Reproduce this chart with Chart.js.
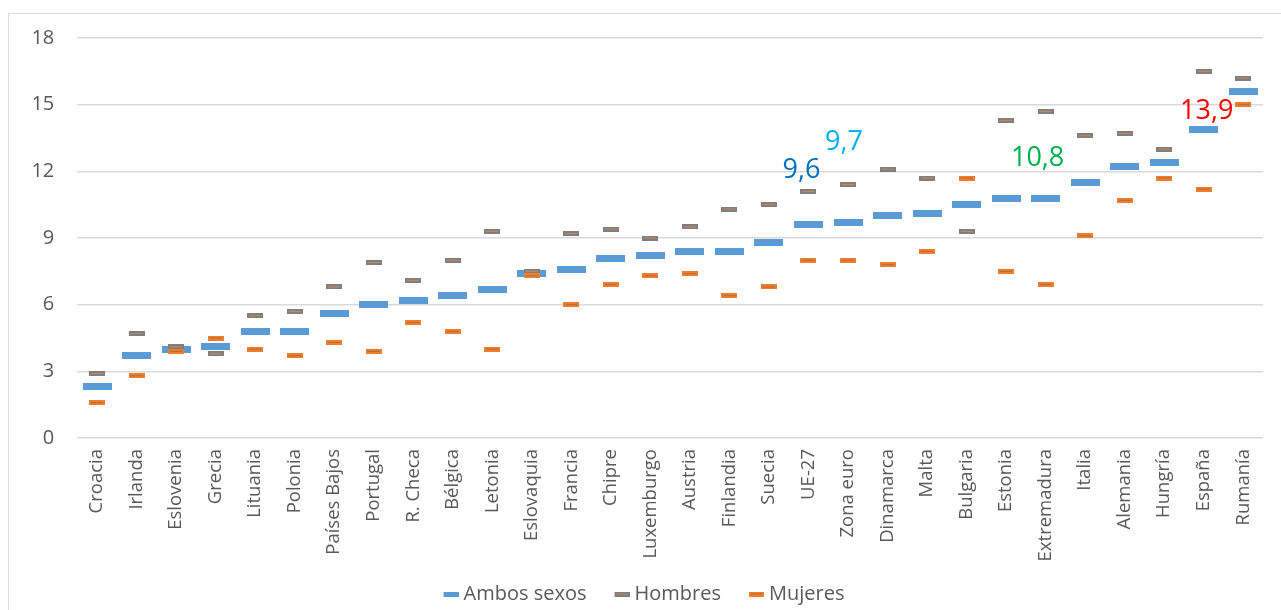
<!DOCTYPE html>
<html>
<head>
<meta charset="utf-8">
<script src="https://cdn.jsdelivr.net/npm/chart.js@4"></script>
<style>
html, body { margin: 0; padding: 0; background: #fff; overflow: hidden; }
#wrap { position: relative; width: 1281px; height: 610px; overflow: hidden; }
#frame { position: absolute; left: 8px; top: 13px; width: 1320px; height: 700px; border: 1px solid #d9d9d9; box-sizing: border-box; }
#chart { position: absolute; left: 0; top: 0; }
</style>
</head>
<body>
<div id="wrap">
  <div id="frame"></div>
  <canvas id="chart" width="1281" height="610"></canvas>
</div>
<script>
// Categories and series (tasa, %)
const categories = ['Croacia', 'Irlanda', 'Eslovenia', 'Grecia', 'Lituania', 'Polonia', 'Países Bajos', 'Portugal',
    'R. Checa', 'Bélgica', 'Letonia', 'Eslovaquia', 'Francia', 'Chipre', 'Luxemburgo', 'Austria', 'Finlandia',
    'Suecia', 'UE-27', 'Zona euro', 'Dinamarca', 'Malta', 'Bulgaria', 'Estonia', 'Extremadura', 'Italia',
    'Alemania', 'Hungría', 'España', 'Rumanía'];
const ambos = [2.3, 3.7, 4.0, 4.1, 4.8, 4.8, 5.6, 6.0, 6.2, 6.4, 6.7, 7.4, 7.6, 8.1, 8.2, 8.4, 8.4, 8.8, 9.6, 9.7,
    10.0, 10.1, 10.5, 10.8, 10.8, 11.5, 12.2, 12.4, 13.9, 15.6];
const hombres = [2.9, 4.7, 4.1, 3.8, 5.5, 5.7, 6.8, 7.9, 7.1, 8.0, 9.3, 7.5, 9.2, 9.4, 9.0, 9.5, 10.3, 10.5, 11.1, 11.4,
    12.1, 11.7, 9.3, 14.3, 14.7, 13.6, 13.7, 13.0, 16.5, 16.2];
const mujeres = [1.6, 2.8, 3.9, 4.5, 4.0, 3.7, 4.3, 3.9, 5.2, 4.8, 4.0, 7.3, 6.0, 6.9, 7.3, 7.4, 6.4, 6.8, 8.0, 8.0,
    7.8, 8.4, 11.7, 7.5, 6.9, 9.1, 10.7, 11.7, 11.2, 15.0];
const yTicks = [0, 3, 6, 9, 12, 15, 18];

// Highlighted values (label drawn above the "Ambos sexos" marker)
const highlightCats = ['UE-27', 'Zona euro', 'Extremadura', 'España'];
const highlightColors = ['#0070C0', '#00B0F0', '#00B050', '#FF0000'];
const highlightOffsets = [[-7, -54], [-4, -80], [-8, -40], [3, -18]];

const FONT = "'Open Sans', 'Noto Sans', sans-serif";
const TEXT = '#595959';

// dash markers like the Excel ones (x0 = where the dash starts inside the canvas)
function dash(cw, w, h, fill, mid, x0) {
    x0 = x0 || 0;
    const c = document.createElement('canvas');
    c.width = cw;
    c.height = h;
    const g = c.getContext('2d');
    g.fillStyle = fill;
    g.fillRect(x0, 0, w, h);
    if (mid) {
        g.fillStyle = mid;
        g.fillRect(x0 + 2, Math.floor(h / 2), w - 4, 1);
    }
    return c;
}

const markBlue = dash(29, 29, 7, '#5B9BD5');
const markGrey = dash(16, 16, 5, '#7F7F7F', '#C98A5E');
const markOrange = dash(16, 16, 5, '#ED7D31', '#C2662A');
// legend marks: wide transparent canvas so the dash sits close to its text
const legendMarks = [
    dash(43, 15, 5, '#5B9BD5', null, 28),
    dash(43, 15, 5, '#7F7F7F', '#C98A5E', 28),
    dash(43, 15, 5, '#ED7D31', '#C2662A', 28)
];

const highlightPlugin = {
    id: 'highlights',
    afterDatasetsDraw(chart) {
        const ctx = chart.ctx;
        const xs = chart.scales.x, ys = chart.scales.y;
        ctx.save();
        ctx.font = "27px " + FONT;
        ctx.textAlign = 'center';
        ctx.textBaseline = 'middle';
        highlightCats.forEach((cat, i) => {
            const idx = categories.indexOf(cat);
            const x = xs.getPixelForValue(idx) + highlightOffsets[i][0];
            const y = ys.getPixelForValue(ambos[idx]) + highlightOffsets[i][1];
            ctx.fillStyle = highlightColors[i];
            ctx.fillText(ambos[idx].toFixed(1).replace('.', ','), x, y);
        });
        ctx.restore();
    }
};

const ctx = document.getElementById('chart').getContext('2d');
new Chart(ctx, {
    type: 'line',
    data: {
        labels: categories,
        datasets: [{
            label: 'Ambos sexos',
            data: ambos,
            showLine: false,
            pointStyle: markBlue,
            order: 2
        }, {
            label: 'Hombres',
            data: hombres,
            showLine: false,
            pointStyle: markGrey,
            order: 1
        }, {
            label: 'Mujeres',
            data: mujeres,
            showLine: false,
            pointStyle: markOrange,
            order: 0
        }]
    },
    options: {
        responsive: false,
        animation: false,
        layout: {
            padding: { left: 2, top: 38, right: 18, bottom: -4 }
        },
        plugins: {
            tooltip: { enabled: false },
            legend: {
                position: 'bottom',
                labels: {
                    usePointStyle: true,
                    pointStyleWidth: 33,
                    padding: 5,
                    color: TEXT,
                    font: { family: FONT, size: 20 },
                    generateLabels: chart => chart.data.datasets.map((ds, i) => ({
                        text: ds.label,
                        pointStyle: legendMarks[i],
                        fillStyle: 'transparent',
                        strokeStyle: 'transparent',
                        lineWidth: 0,
                        fontColor: TEXT,
                        hidden: false,
                        datasetIndex: i
                    }))
                }
            }
        },
        scales: {
            x: {
                offset: true,
                grid: { display: false },
                border: { display: false },
                ticks: {
                    color: TEXT,
                    font: { family: FONT, size: 18.5 },
                    maxRotation: 90,
                    minRotation: 90,
                    autoSkip: false,
                    padding: 3
                },
                afterFit: s => { s.height = 141; }
            },
            y: {
                min: 0,
                max: 18,
                border: { display: false },
                grid: { color: '#d9d9d9', lineWidth: 1.5, drawTicks: false },
                ticks: {
                    color: TEXT,
                    font: { family: FONT, size: 20 },
                    padding: 23,
                    stepSize: 3
                },
                afterBuildTicks: s => { s.ticks = yTicks.map(v => ({ value: v })); },
                afterFit: s => { s.width = 75.3; }
            }
        }
    },
    plugins: [highlightPlugin]
});
</script>
</body>
</html>
